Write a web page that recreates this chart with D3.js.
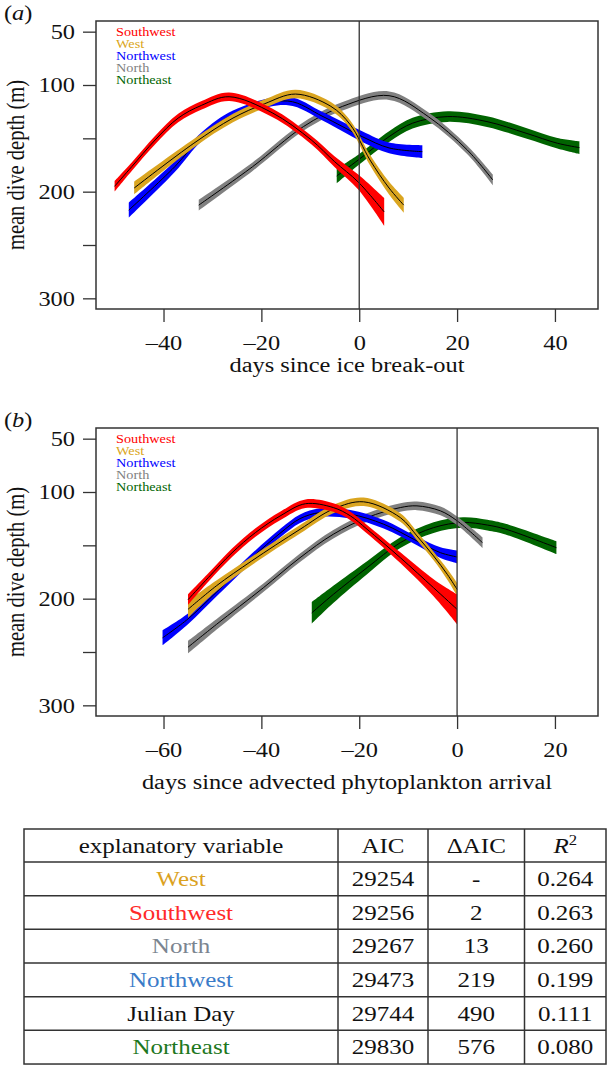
<!DOCTYPE html>
<html>
<head>
<meta charset="utf-8">
<script src="https://cdn.jsdelivr.net/npm/d3@7"></script>
<style>
  html, body { margin: 0; padding: 0; background: #fff; }
  svg { display: block; }
  text { font-family: "Liberation Serif", "Times New Roman", serif; }
</style>
</head>
<body>
<svg id="chart" width="609" height="1065"></svg>
<script>
// ---------------- DATA ----------------
// Each point: [day, mean dive depth (m), half-width of confidence band (m)]
// Panel (a): days since ice break-out
const southwestA = [[-50,195,5],[-46.5,176.6,4],[-41.7,151.5,4],[-37,131,4],[-32.2,119,4],[-26.6,111,4],[-17.8,126,4],[-9.8,151.5,4],[-5,172,5],[-0.2,191,7],[5.1,219,13]];
const westA      = [[-46,196.6,6],[-33.8,154.6,4],[-25.8,131,4],[-19.4,117.7,4],[-13,108.5,4],[-5.8,120,4],[-1.8,137.4,4],[2.2,170.3,5],[6.1,196.6,6],[9.1,212.6,7]];
const northwestA = [[-47.1,217.3,7],[-37.7,176.6,5],[-32.2,148.4,4],[-25.8,128,4],[-14.6,115,4],[-7.4,129.6,4],[0.6,148.4,5],[6.1,159,5],[12.9,162.5,6]];
const northA     = [[-32.8,212.6,5],[-21.8,176.6,4],[-11.4,139,4],[-3.4,120,4],[6.1,110,4],[14.1,129.6,4],[22.1,161,4],[27.3,189,5]];
const northeastA = [[-4.6,185.3,7],[-0.2,170.3,5],[6.1,148.4,5],[10.9,135.8,5],[18.1,129.6,5],[26.1,134.3,5],[34.1,145.2,5],[40.5,154.6,5],[45,158.7,6]];

// Panel (b): days since advected phytoplankton arrival
const southwestB = [[-55,201,5],[-50.8,180,4],[-46,157,4],[-41.2,138,4],[-36,122,4],[-31,111,4],[-25.3,114.6,4],[-21.8,122.4,4],[-18.4,134.9,4],[-11.6,161.6,5],[-4.8,189.8,8],[0,210,14]];
const westB      = [[-55,210,8],[-49.2,188,5],[-42,164.7,4],[-32.1,135,4],[-25.3,116,4],[-19.1,109.2,4],[-11.6,124,4],[-8.2,141.2,4],[-4.8,160,4],[-2,177.2,5],[0,191.3,6]];
const northwestB = [[-60.2,236.7,7],[-55,219,5],[-49.2,194,4],[-42,162,4],[-36,138,4],[-32.1,125,4],[-28,119.3,4],[-21.8,120.8,4],[-15,130.2,4],[-8.2,145.9,4],[-3.4,156.9,5],[0,160.9,6]];
const northB     = [[-55,245.5,6],[-49.2,224.2,5],[-39.6,189.8,4],[-32.1,161.6,4],[-25.3,139.6,4],[-18.4,124,4],[-11.6,114.6,4],[-8.2,113,4],[-3.4,117.7,4],[0,127,4],[5.2,147.5,5]];
const northeastB = [[-29.7,213.3,10],[-25.3,196,8],[-18.4,171,6],[-11.6,147.5,5],[-4.8,133.4,5],[1.2,128.6,5],[6.2,131,5],[9.9,134.8,5],[20.3,152.2,6]];

const seriesNames = ["Southwest","West","Northwest","North","Northeast"];
const seriesColors = ["#ff0000","#daa520","#0000ff","#808080","#006400"];
const drawOrder = ["Northeast","North","Northwest","West","Southwest"];

const xTicksA = [-40,-20,0,20,40];
const xTicksB = [-60,-40,-20,0,20];
const yTicks = [50,100,150,200,250,300];
const yTickLabels = ["50","100","","200","","300"];
const xDomainA = [-50,45];
const xDomainB = [-70,25];
const yDomain = [50,300];

const xTitleA = "days since ice break-out";
const xTitleB = "days since advected phytoplankton arrival";
const yTitle = "mean dive depth (m)";

// Table
const tblHeader = ["explanatory variable","AIC","\u0394AIC","R2"];
const tblVars   = ["West","Southwest","North","Northwest","Julian Day","Northeast"];
const tblAIC    = ["29254","29256","29267","29473","29744","29830"];
const tblDAIC   = ["-","2","13","219","490","576"];
const tblR2     = ["0.264","0.263","0.260","0.199","0.111","0.080"];
const tblColors = ["#dba21f","#ff2a2a","#7b8590","#3a7bc8","#111111","#1e781e"];

// ---------------- DRAWING ----------------
const svg = d3.select("#chart");
const SX = 1.19;   // horizontal stretch of lettering in the reference
const FS = 20.5;

function sText(parent, x, y, str, opts = {}) {
  const t = parent.append("text")
    .attr("transform", `translate(${x},${y}) scale(${SX},1)` + (opts.rotate ? ` rotate(${opts.rotate})` : ""))
    .attr("text-anchor", opts.anchor || "middle")
    .attr("font-size", opts.size || FS)
    .attr("fill", opts.fill || "#111")
    .text(str);
  return t;
}

function expand(dom) { const r = dom[1]-dom[0]; return [dom[0]-0.04*r, dom[1]+0.04*r]; }

function panel(cfg) {
  const g = svg.append("g");
  const x = d3.scaleLinear().domain(expand(cfg.xDomain)).range([96, 598]);
  const y = d3.scaleLinear().domain(expand(yDomain)).range([cfg.top, cfg.top + 288]);
  const bottom = cfg.top + 288;

  // series
  const byName = {};
  seriesNames.forEach((n,i) => byName[n] = {data: cfg.data[i], color: seriesColors[i]});
  const crv = d3.curveCatmullRom.alpha(0.5);
  const area = d3.area().x(d => x(d[0])).y0(d => y(d[1]-d[2])).y1(d => y(d[1]+d[2])).curve(crv);
  const line = d3.line().x(d => x(d[0])).y(d => y(d[1])).curve(crv);
  drawOrder.forEach(n => {
    const s = byName[n];
    g.append("path").attr("d", area(s.data)).attr("fill", s.color).attr("stroke", "none");
    g.append("path").attr("d", line(s.data)).attr("fill", "none").attr("stroke", "#000").attr("stroke-width", 1);
  });

  // zero line
  g.append("line").attr("x1", x(0)).attr("x2", x(0)).attr("y1", cfg.top).attr("y2", bottom)
    .attr("stroke", "#333").attr("stroke-width", 1.3);

  // box
  g.append("rect").attr("x", 96).attr("y", cfg.top).attr("width", 502).attr("height", 288)
    .attr("fill", "none").attr("stroke", "#333").attr("stroke-width", 1.5);

  // x axis
  const xa = g.append("g").attr("transform", `translate(0,${bottom})`)
    .call(d3.axisBottom(x).tickValues(cfg.xTicks).tickSize(13).tickFormat(d => d < 0 ? "\u2013" + Math.abs(d) : String(d)));
  xa.select(".domain").remove();
  xa.selectAll(".tick line").attr("stroke", "#333").attr("stroke-width", 1.3);
  xa.selectAll(".tick text").attr("y", 41).attr("dy", null).attr("transform", `scale(${SX},1)`)
    .attr("font-size", FS).attr("font-family", "Liberation Serif").attr("fill", "#111");

  // y axis
  const ya = g.append("g").attr("transform", "translate(96,0)")
    .call(d3.axisLeft(y).tickValues(yTicks).tickSize(13).tickFormat((d,i) => yTickLabels[i]));
  ya.select(".domain").remove();
  ya.selectAll(".tick line").attr("stroke", "#333").attr("stroke-width", 1.3);
  ya.selectAll(".tick text").attr("x", -21 / SX).attr("dy", "0.34em").attr("transform", `scale(${SX},1)`)
    .attr("font-size", FS).attr("font-family", "Liberation Serif").attr("fill", "#111");

  // titles
  sText(g, (96+598)/2, cfg.xTitleY, cfg.xTitle);
  sText(g, 23.5, cfg.top + 144, yTitle, {rotate: -90});

  // panel label
  const pl = g.append("text").attr("transform", `translate(4,${cfg.top - 1}) scale(${SX},1)`)
    .attr("font-size", FS).attr("fill", "#111");
  pl.append("tspan").text("(");
  pl.append("tspan").attr("font-style", "italic").text(cfg.label);
  pl.append("tspan").text(")");

  // legend
  seriesNames.forEach((n,i) => {
    sText(g, 116, cfg.top + 15 + i*12, n, {anchor: "start", size: 12, fill: seriesColors[i]});
  });
}

panel({top: 21, xDomain: xDomainA, xTicks: xTicksA, xTitle: xTitleA, xTitleY: 372, label: "a",
       data: [southwestA, westA, northwestA, northA, northeastA]});
panel({top: 428, xDomain: xDomainB, xTicks: xTicksB, xTitle: xTitleB, xTitleY: 789, label: "b",
       data: [southwestB, westB, northwestB, northB, northeastB]});

// ---------------- TABLE ----------------
const tg = svg.append("g");
const colEdges = [24, 338, 428, 524.5, 606];
const rowEdges = d3.range(8).map(i => i === 0 ? 829 : 862 + (i-1) * 33.67);
const TFS = 21;
tg.append("rect").attr("x", colEdges[0]).attr("y", rowEdges[0])
  .attr("width", colEdges[4]-colEdges[0]).attr("height", rowEdges[7]-rowEdges[0])
  .attr("fill", "none").attr("stroke", "#333").attr("stroke-width", 1.5);
colEdges.slice(1,4).forEach(cx => tg.append("line").attr("x1", cx).attr("x2", cx)
  .attr("y1", rowEdges[0]).attr("y2", rowEdges[7]).attr("stroke", "#333").attr("stroke-width", 1.5));
rowEdges.slice(1,7).forEach(ry => tg.append("line").attr("x1", colEdges[0]).attr("x2", colEdges[4])
  .attr("y1", ry).attr("y2", ry).attr("stroke", "#333").attr("stroke-width", 1.5));

const colMid = i => (colEdges[i] + colEdges[i+1]) / 2;
const rowBase = i => (rowEdges[i] + rowEdges[i+1]) / 2 + 7;

sText(tg, colMid(0), rowBase(0), tblHeader[0], {size: TFS});
sText(tg, colMid(1), rowBase(0), tblHeader[1], {size: TFS});
sText(tg, colMid(2), rowBase(0), tblHeader[2], {size: TFS});
const r2 = tg.append("text").attr("transform", `translate(${colMid(3)},${rowBase(0)}) scale(${SX},1)`)
  .attr("text-anchor", "middle").attr("font-size", TFS).attr("fill", "#111");
r2.append("tspan").attr("font-style", "italic").text("R");
r2.append("tspan").attr("font-size", 14).attr("dy", -8).text("2");

tblVars.forEach((v,i) => {
  sText(tg, colMid(0), rowBase(i+1), v, {size: TFS, fill: tblColors[i]});
  sText(tg, colMid(1), rowBase(i+1), tblAIC[i], {size: TFS});
  sText(tg, colMid(2), rowBase(i+1), tblDAIC[i], {size: TFS});
  sText(tg, colMid(3), rowBase(i+1), tblR2[i], {size: TFS});
});
</script>
</body>
</html>
